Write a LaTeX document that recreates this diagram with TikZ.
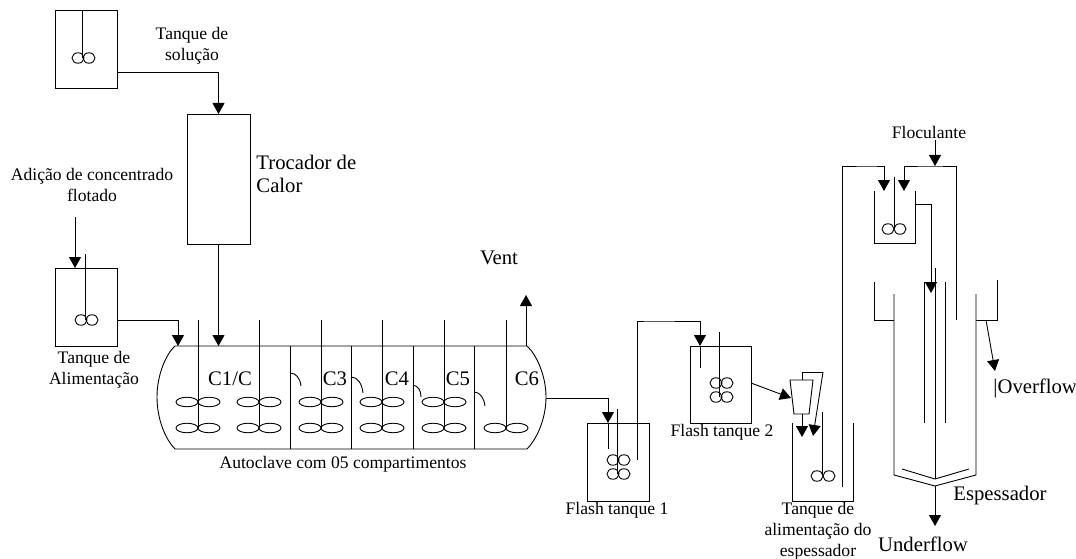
\documentclass[tikz,border=0pt]{standalone}
\usepackage{fontspec}
\setmainfont{Liberation Serif}
\usetikzlibrary{arrows.meta, positioning, shapes.geometric}

\begin{document}
\begin{tikzpicture}[x=1pt, y=-1pt, line width=0.9pt]
  \tikzset{
    lab/.style={font=\fontsize{17.6}{20.8}\selectfont, align=center, inner sep=0pt},
    biglab/.style={font=\fontsize{20.7}{23.5}\selectfont, align=left, inner sep=0pt},
    box/.style={rectangle, draw, inner sep=0pt, outer sep=0pt},
    blade/.style={ellipse, draw, inner sep=0pt, outer sep=0pt, minimum width=12pt, minimum height=10.5pt},
    longblade/.style={ellipse, draw, inner sep=0pt, outer sep=0pt, minimum width=22pt, minimum height=9.5pt},
    flow/.style={-{Triangle[length=11pt, width=12pt]}}
  }
  \useasboundingbox (0,0) rectangle (1076,559);

  % tanks and exchanger
  \node[box, minimum width=62pt, minimum height=78pt] (tksol) at (86,49) {};
  \node[box, minimum width=63pt, minimum height=130pt] (hx) at (218.5,179) {};
  \node[box, minimum width=62pt, minimum height=78pt] (tkfeed) at (86,307) {};
  \node[box, minimum width=62pt, minimum height=78pt] (flone) at (618,462) {};
  \node[box, minimum width=61pt, minimum height=77pt] (fltwo) at (720.5,384.5) {};

  % agitators of the single tanks
  \node[blade] (solL) at (78,58) {};
  \node[blade] (solR) at (89,58) {};
  \node[blade] (feedL) at (81,320) {};
  \node[blade] (feedR) at (92,320) {};
  \node[blade] (oneA) at (613,460) {};
  \node[blade] (oneB) at (624,460) {};
  \node[blade] (oneC) at (613,474) {};
  \node[blade] (oneD) at (624,474) {};
  \node[blade] (twoA) at (716,383) {};
  \node[blade] (twoB) at (727,383) {};
  \node[blade] (twoC) at (716,397) {};
  \node[blade] (twoD) at (727,397) {};
  \node[blade] (thkL) at (817,476) {};
  \node[blade] (thkR) at (829,476) {};
  \node[blade] (flocL) at (888,229) {};
  \node[blade] (flocR) at (900,229) {};
  \coordinate (solTop) at (82,10);
  \coordinate (solEnd) at (82,58);
  \coordinate (feedTop) at (85,254);
  \coordinate (feedEnd) at (85,320);
  \draw (solTop) -- (solEnd);
  \draw (feedTop) -- (feedEnd);
  \draw (617,409) -- (617,474);
  \draw (719,332) -- (719,397);
  \draw (822,412) -- (822,476);
  \draw (894,177) -- (894,229);

  % autoclave
  \draw (175,346) -- (527,346) .. controls (536,354) and (546,375) .. (546,397)
    .. controls (546,420) and (536,440) .. (527,449) -- (175,449)
    .. controls (166,440) and (157,420) .. (157,397)
    .. controls (157,375) and (166,354) .. (175,346) -- cycle;
  \foreach \x in {290,351,413,474}
    \draw (\x,346) -- (\x,449);
  \foreach \x in {198,259,321,382,444} {
    \draw (\x,320) -- (\x,428);
    \node[longblade] (up\x L) at (\x-11,402) {};
    \node[longblade] (up\x R) at (\x+11,402) {};
    \node[longblade] (lo\x L) at (\x-11,428) {};
    \node[longblade] (lo\x R) at (\x+11,428) {};
  }
  \draw (506,320) -- (506,428);
  \node[longblade] (loL) at (495,428) {};
  \node[longblade] (loR) at (517,428) {};
  % baffles
  \draw (290,373) .. controls (296,373) and (300,378) .. (301,386);
  \draw (351,377) .. controls (358,377) and (362,384) .. (363,393);
  \draw (413,385) .. controls (418,386) and (421,390) .. (421,397);
  \draw (474,392) .. controls (480,392) and (484,398) .. (485,406);

  % thickener feed tank, flocculant tank, cyclone
  \draw (792,423) -- (792,501) -- (853,501) -- (853,423);
  \draw (874,191) -- (874,243) -- (915,243) -- (915,191);
  \draw (790,380) -- (813,380) -- (809,414) -- (794,414) -- cycle;

  % thickener
  \draw (874,282) -- (874,320) -- (894,320);
  \draw (894,294) -- (894,475) -- (935,486) -- (976,475) -- (976,294);
  \draw (976,320) -- (997,320) -- (997,280);
  \draw (902,469) -- (935,479) -- (969,469);
  \draw (924,423) -- (924,282) -- (936,282);
  \draw (945,282) -- (945,423);
  \draw (935,268) -- (935,479);

  % streams
  \coordinate (solOut) at (117,72);
  \coordinate (hxIn) at (hx.north);
  \draw[flow] (solOut) -| (hxIn);
  \coordinate (addTop) at (75,217);
  \coordinate (addEnd) at (75,268);
  \draw[flow] (addTop) -- (addEnd);
  \coordinate (feedOut) at (117,320);
  \coordinate (acIn) at (178,346);
  \draw[flow] (feedOut) -| (acIn);
  \coordinate (acHx) at (218.5,346);
  \draw[flow] (hx.south) -- (acHx);
  \coordinate (ventBase) at (526,346);
  \coordinate (ventEnd) at (526,295);
  \draw[flow] (ventBase) -- (ventEnd);
  \coordinate (acOut) at (546,398);
  \coordinate (oneIn) at (608,423);
  \draw[flow] (acOut) -| (oneIn);
  \draw (oneIn) -- (608,449);
  \coordinate (oneOut) at (637,460);
  \coordinate (twoIn) at (700,346);
  \draw[flow] (oneOut) |- (650,321) -| (twoIn);
  \draw (twoIn) -- (700,368);
  \coordinate (twoOut) at (751,383);
  \coordinate (cycIn) at (791,398);
  \draw[flow] (twoOut) -- (cycIn);
  \coordinate (cycTop) at (802,380);
  \coordinate (cycBot) at (802,414);
  \coordinate (thkA) at (802,437);
  \coordinate (thkB) at (813,436);
  \draw (cycTop) -- (802,372) -- (823,372);
  \draw[flow] (823,372) -- (thkB);
  \draw[flow] (cycBot) -- (thkA);
  \coordinate (pipeStart) at (842,487);
  \coordinate (flocInA) at (884,191);
  \draw[flow] (pipeStart) |- (870,166) -| (flocInA);
  \coordinate (flocTop) at (935,140);
  \coordinate (flocJoin) at (935,166);
  \draw[flow] (flocTop) -- (flocJoin);
  \coordinate (flocInB) at (904,191);
  \draw[flow] (956,320) |- (930,166) -| (flocInB);
  \coordinate (flocOut) at (915,204);
  \coordinate (wellIn) at (931,293);
  \draw[flow] (flocOut) -| (wellIn);
  \coordinate (ufBase) at (935,486);
  \coordinate (ufEnd) at (935,526);
  \draw[flow] (ufBase) -- (ufEnd);
  \coordinate (ofBase) at (986,320);
  \coordinate (ofEnd) at (995,371);
  \draw[flow] (ofBase) -- (ofEnd);

  % labels
  \node[lab] (lbsol) at (192,46) {Tanque de\\solução};
  \node[biglab] (lbhx) [anchor=west] at (256,174) {Trocador de\\Calor};
  \node[lab] (lbadd) at (92,185) {Adição de concentrado\\flotado};
  \node[lab] (lbfeed) at (94,370) {Tanque de\\Alimentação};
  \node[lab] (lbac) at (343,464) {Autoclave com 05 compartimentos};
  \node[biglab] (lbvent) at (499,258) {Vent};
  \node[biglab] (cone) at (230,379) {C1/C};
  \node[biglab] (cthree) at (335,379) {C3};
  \node[biglab] (cfour) at (397,379) {C4};
  \node[biglab] (cfive) at (458,379) {C5};
  \node[biglab] (csix) at (527,379) {C6};
  \node[lab] (lbone) at (617,510) {Flash tanque 1};
  \node[lab] (lbtwo) at (722,432) {Flash tanque 2};
  \node[lab] (lbthk) at (818,531) {Tanque de\\alimentação do\\espessador};
  \node[lab] (lbfloc) at (929,132) {Floculante};
  \node[biglab] (lbover) [anchor=west] at (993,388) {|Overflow};
  \node[biglab] (lbesp) at (1000,496) {Espessador};
  \node[biglab] (lbunder) at (923,544) {Underflow};
\end{tikzpicture}
\end{document}
